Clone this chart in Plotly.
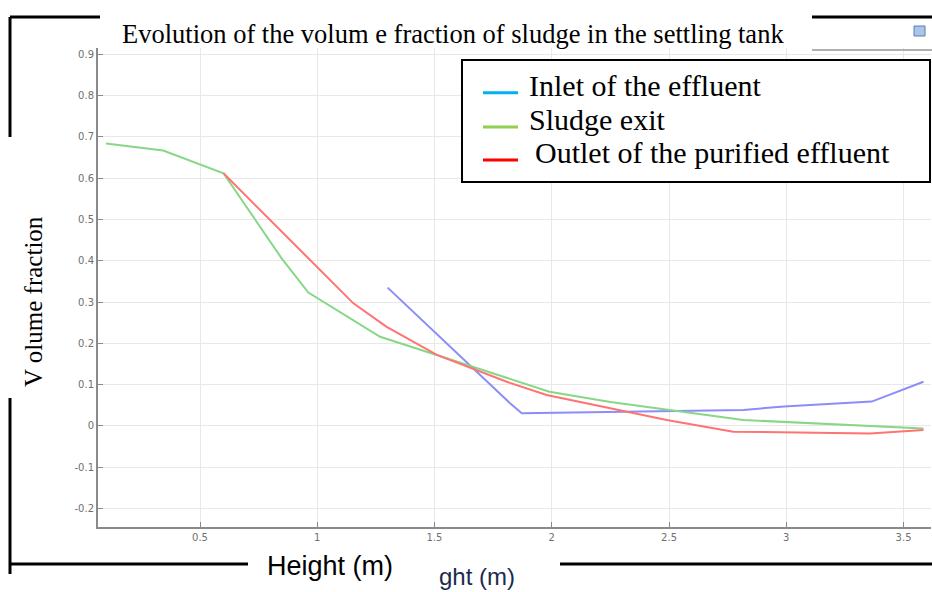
import plotly.graph_objects as go

# ---- data ----
inlet_x = [1.30, 1.822, 1.872, 2.817, 2.99, 3.364, 3.585]
inlet_y = [0.335, 0.055, 0.031, 0.039, 0.047, 0.059, 0.107]

sludge_x = [0.099, 0.343, 0.60, 0.848, 0.962, 1.268, 1.509, 1.68, 1.99, 2.25, 2.49, 2.817, 3.585]
sludge_y = [0.684, 0.667, 0.612, 0.406, 0.323, 0.216, 0.172, 0.140, 0.083, 0.058, 0.039, 0.0145, -0.006]

outlet_x = [0.60, 0.998, 1.154, 1.296, 1.51, 1.808, 1.978, 2.49, 2.774, 3.357, 3.585]
outlet_y = [0.612, 0.386, 0.297, 0.240, 0.172, 0.107, 0.075, 0.0145, -0.0137, -0.018, -0.0097]

legend_names = ["Inlet of the effluent", "Sludge exit", "Outlet of the purified effluent"]
legend_colors = ["#00b0f0", "#92d050", "#ff0000"]
line_colors = ["rgb(140,140,250)", "rgb(135,215,135)", "rgb(255,115,115)"]

x_ticks = [0.5, 1, 1.5, 2, 2.5, 3, 3.5]
x_ticktext = ["0.5", "1", "1.5", "2", "2.5", "3", "3.5"]
y_ticks = [-0.2, -0.1, 0, 0.1, 0.2, 0.3, 0.4, 0.5, 0.6, 0.7, 0.8, 0.9]
y_ticktext = ["-0.2", "-0.1", "0", "0.1", "0.2", "0.3", "0.4", "0.5", "0.6", "0.7", "0.8", "0.9"]

title_text = "Evolution of the volum e fraction of sludge in the settling tank"
ytitle_text = "V olume fraction"
xtitle_text = "Height (m)"
xtitle_ghost = "ght (m)"

# ---- layout geometry ----
W, H = 932, 592
L, R, T, B = 98, 1, 48, 65
PW, PH = W - L - R, H - T - B


def px(x):
    return (x - L) / PW


def py(y):
    return (H - B - y) / PH


fig = go.Figure()
for xs, ys, c, n in zip([inlet_x, sludge_x, outlet_x], [inlet_y, sludge_y, outlet_y],
                        line_colors, legend_names):
    fig.add_trace(go.Scatter(x=xs, y=ys, mode="lines", name=n, line=dict(color=c, width=2),
                             showlegend=False))

axis_common = dict(showgrid=True, gridcolor="#e8e8e8", gridwidth=1, showline=True,
                   linecolor="#8a8a8a", linewidth=2, ticks="inside", ticklen=5,
                   tickcolor="#8a8a8a", tickfont=dict(family="DejaVu Sans", size=10, color="#707070"),
                   zeroline=False)

fig.update_xaxes(range=[0.065, 3.617], tickvals=x_ticks, ticktext=x_ticktext, **axis_common)
fig.update_yaxes(range=[-0.2446, 0.9153], tickvals=y_ticks, ticktext=y_ticktext, **axis_common)

shapes = []
black = dict(color="black", width=3)
segs = [((10, 17), (100, 17)), ((812, 17), (932, 17)),
        ((10, 17), (10, 137)), ((10, 398), (10, 574)),
        ((10, 564), (248, 564)), ((560, 564), (932, 564))]
for (x0, y0), (x1, y1) in segs:
    shapes.append(dict(type="line", xref="paper", yref="paper", x0=px(x0), y0=py(y0),
                       x1=px(x1), y1=py(y1), line=black, layer="above"))
# grey line at top right (window frame)
shapes.append(dict(type="line", xref="paper", yref="paper", x0=px(812), y0=py(50),
                   x1=px(932), y1=py(50), line=dict(color="#b0b0b0", width=2)))
# small icon top right
shapes.append(dict(type="rect", xref="paper", yref="paper", x0=px(914), y0=py(26),
                   x1=px(925), y1=py(36), line=dict(color="#5a7fb0", width=1),
                   fillcolor="#a9c6e8"))

# legend box (overlay)
shapes.append(dict(type="rect", xref="paper", yref="paper", x0=px(462), y0=py(60),
                   x1=px(930), y1=py(182), line=dict(color="black", width=2),
                   fillcolor="white", layer="above"))
legend_sample_y = [92.7, 127, 160]
legend_text_y = [85, 119, 152]
legend_text_x = [527, 527, 533]
for c, sy in zip(legend_colors, legend_sample_y):
    shapes.append(dict(type="line", xref="paper", yref="paper", x0=px(483), y0=py(sy),
                       x1=px(518), y1=py(sy), line=dict(color=c, width=3), layer="above"))

annotations = [
    dict(text=title_text, xref="paper", yref="paper", x=px(453), y=py(34),
         showarrow=False, font=dict(family="Liberation Serif", size=26.5, color="black"),
         xanchor="center", yanchor="middle"),
    dict(text=ytitle_text, xref="paper", yref="paper", x=px(33), y=py(302), textangle=-90,
         showarrow=False, font=dict(family="Liberation Serif", size=25, color="black"),
         xanchor="center", yanchor="middle"),
    dict(text=xtitle_text, xref="paper", yref="paper", x=px(330), y=py(566),
         showarrow=False, font=dict(family="Liberation Sans", size=27, color="black"),
         xanchor="center", yanchor="middle"),
    dict(text=xtitle_ghost, xref="paper", yref="paper", x=px(477), y=py(576),
         showarrow=False, font=dict(family="Liberation Sans", size=24, color="#1d2a50"),
         xanchor="center", yanchor="middle"),
]
for n, tx, ty in zip(legend_names, legend_text_x, legend_text_y):
    annotations.append(dict(text=n, xref="paper", yref="paper", x=px(tx), y=py(ty),
                            showarrow=False, xanchor="left", yanchor="middle",
                            font=dict(family="Liberation Serif", size=30, color="black")))

fig.update_layout(
    width=W, height=H,
    margin=dict(l=L, r=R, t=T, b=B),
    paper_bgcolor="white", plot_bgcolor="white",
    showlegend=False,
    shapes=shapes,
    annotations=annotations,
)

fig.write_html("out.html")
